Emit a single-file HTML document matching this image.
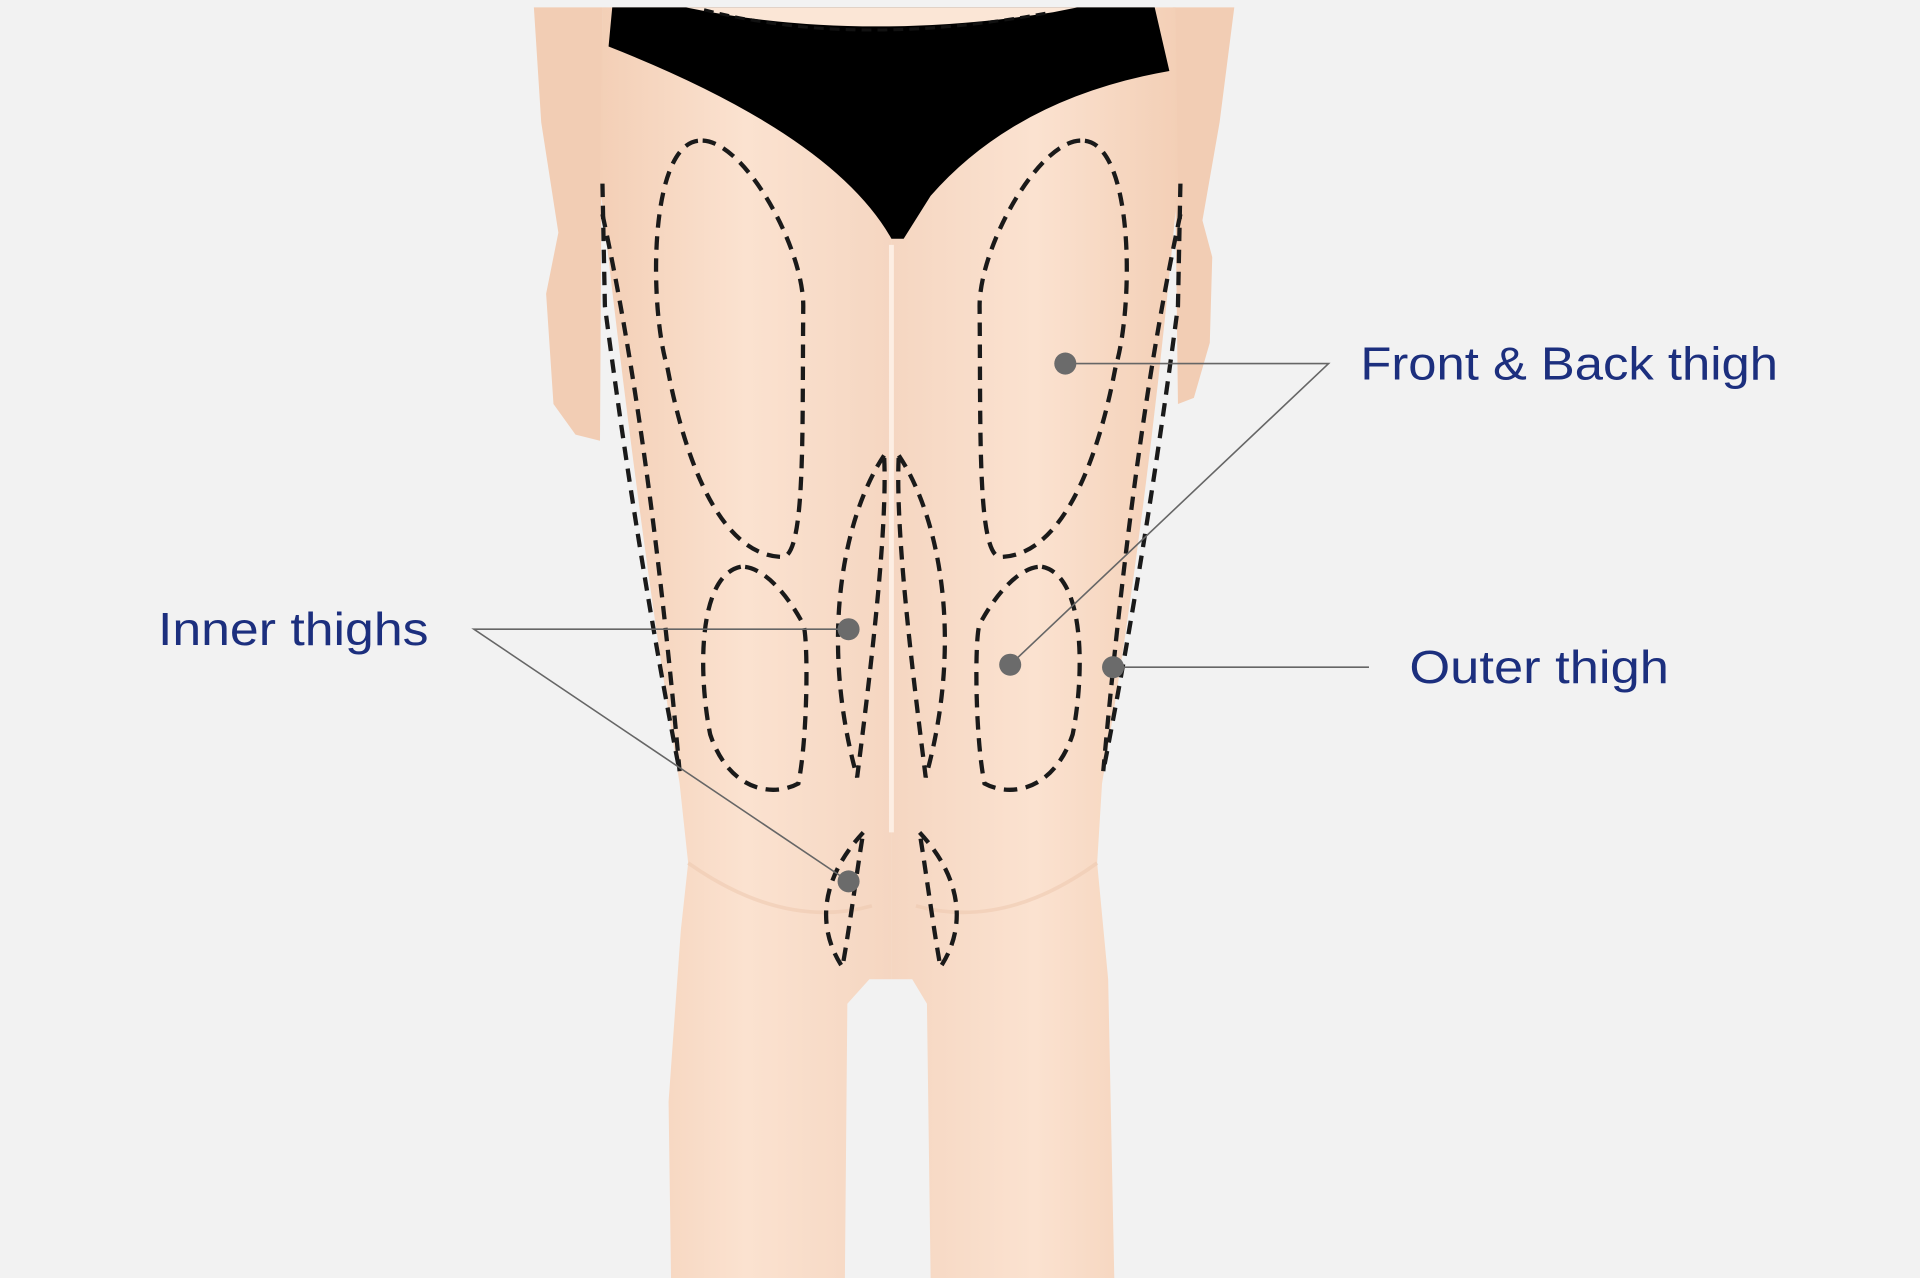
<!DOCTYPE html>
<html><head><meta charset="utf-8"><style>
html,body{margin:0;padding:0;background:#f2f2f2;}
svg{display:block;}
</style></head><body>
<svg width="1920" height="1278" viewBox="0 0 1568 1044" preserveAspectRatio="none" xmlns="http://www.w3.org/2000/svg">
<defs>
<linearGradient id="sk" x1="0" y1="0" x2="1" y2="0">
<stop offset="0" stop-color="#f3cfb6"/><stop offset="0.5" stop-color="#fbe2d0"/><stop offset="1" stop-color="#f5d6c1"/>
</linearGradient>
<linearGradient id="sk2" x1="0" y1="0" x2="1" y2="0">
<stop offset="0" stop-color="#f5d6c1"/><stop offset="0.5" stop-color="#fbe2d0"/><stop offset="1" stop-color="#f3cfb6"/>
</linearGradient>
</defs>
<rect width="1568" height="1044" fill="#f2f2f2"/>
<!-- arms -->
<path d="M436,6 L492,6 L490,360 L470,355 L452,330 L446,240 L456,190 L442,100 Z" fill="#f2cdb4"/>
<path d="M1008,6 L958,6 L962,330 L975,325 L988,280 L990,210 L982,180 L996,100 Z" fill="#f2cdb4"/>
<!-- left leg -->
<path d="M492,6 L728,6 L728,800 L710,800 L692,820 L690,1044 L548,1044 L546,900 L556,760 L562,705 L555,640 Q520,420 490,150 Z" fill="url(#sk)"/>
<!-- right leg -->
<path d="M728,6 L960,6 L962,150 Q940,400 900,640 L896,705 L905,800 L910,1044 L760,1044 L757,820 L745,800 L728,800 Z" fill="url(#sk2)"/>
<path d="M728,200 L728,680" stroke="#fdeee3" stroke-width="4"/>
<path d="M562,705 Q640,760 712,740 M896,705 Q820,760 748,740" stroke="#efc9b0" stroke-width="3" fill="none" opacity="0.6"/>
<!-- panties -->
<path d="M500,6 L943,6 L955,58 Q830,80 760,160 L738,195 L728,195 Q680,110 497,38 Z" fill="#000"/>
<path d="M560,6 Q700,35 860,10 L880,6 Z" fill="#fbe6d6"/>
<path d="M575,8 Q700,40 858,10" stroke="#111" stroke-width="2.5" fill="none" stroke-dasharray="8 5"/>
<g fill="none" stroke="#1a1a1a" stroke-width="3.5" stroke-dasharray="11 7">
<path d="M492,150 L494,250 Q520,450 555,630"/>
<path d="M492,175 Q530,350 555,630"/>
<path d="M570,115 C530,120 530,250 545,300 C560,380 590,455 640,455 C658,450 655,350 656,250 C656,200 605,110 570,115 Z"/>
<path d="M605,463 C570,470 570,550 580,600 C595,645 630,652 652,640 C660,600 660,520 656,510 C640,480 620,462 605,463 Z"/>
<path d="M722,372 C690,420 668,520 700,635 C712,540 725,430 722,372 Z"/>
<path d="M705,680 C668,720 668,760 688,790 C695,750 700,710 705,680 Z"/>
</g>
<g transform="translate(1456,0) scale(-1,1)" fill="none" stroke="#1a1a1a" stroke-width="3.5" stroke-dasharray="11 7">
<path d="M492,150 L494,250 Q520,450 555,630"/>
<path d="M492,175 Q530,350 555,630"/>
<path d="M570,115 C530,120 530,250 545,300 C560,380 590,455 640,455 C658,450 655,350 656,250 C656,200 605,110 570,115 Z"/>
<path d="M605,463 C570,470 570,550 580,600 C595,645 630,652 652,640 C660,600 660,520 656,510 C640,480 620,462 605,463 Z"/>
<path d="M722,372 C690,420 668,520 700,635 C712,540 725,430 722,372 Z"/>
<path d="M705,680 C668,720 668,760 688,790 C695,750 700,710 705,680 Z"/>
</g>
<g stroke="#666" stroke-width="1.3" fill="none">
<path d="M870,297 L1085,297 L825,543"/>
<path d="M693,514 L387,514 L693,720"/>
<path d="M909,545 L1118,545"/>
</g>
<g fill="#6b6b6b">
<circle cx="870" cy="297" r="9"/><circle cx="693" cy="514" r="9"/><circle cx="825" cy="543" r="9"/><circle cx="909" cy="545" r="9"/><circle cx="693" cy="720" r="9"/>
</g>
<g fill="#1c2f7e" font-family="Liberation Sans, sans-serif" font-size="38">
<text x="1111" y="310" textLength="341" lengthAdjust="spacingAndGlyphs">Front &amp; Back thigh</text>
<text x="129" y="527" textLength="221" lengthAdjust="spacingAndGlyphs">Inner thighs</text>
<text x="1151" y="558" textLength="212" lengthAdjust="spacingAndGlyphs">Outer thigh</text>
</g>
</svg>
</body></html>
